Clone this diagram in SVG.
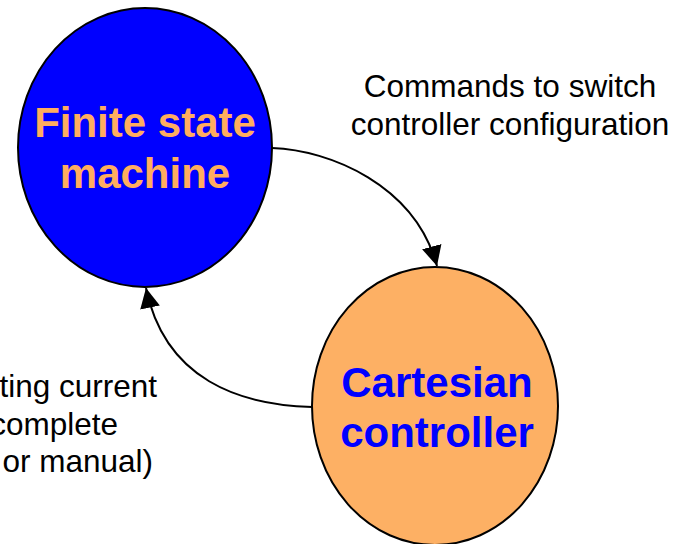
<svg xmlns="http://www.w3.org/2000/svg" width="681" height="544" viewBox="0 0 681 544">
<style>
text{font-family:"Liberation Sans",Arial,sans-serif}
.node{stroke:#000;stroke-width:2}
.title{font-size:42px;font-weight:bold;text-anchor:middle}
.lbl{font-size:31.5px;fill:#000}
.edge{fill:none;stroke:#000;stroke-width:2}
</style>
<defs>
<marker id="ah" markerUnits="userSpaceOnUse" markerWidth="20" markerHeight="20" refX="20" refY="10" orient="auto">
<path d="M0,0 L20,10 L0,20 z" fill="#000"/>
</marker>
</defs>
<rect width="681" height="544" fill="#fff"/>
<g id="fsm">
<ellipse class="node" cx="145" cy="147.5" rx="127" ry="139.5" fill="#0000FF"/>
<text class="title" x="145" y="137" fill="#FFAD5F">Finite state</text>
<text class="title" x="145" y="188" fill="#FFAD5F">machine</text>
</g>
<g id="cartesian">
<ellipse class="node" cx="435" cy="406" rx="123" ry="139" fill="#FDB064"/>
<text class="title" x="437" y="397" fill="#0000FF">Cartesian</text>
<text class="title" x="437" y="447" fill="#0000FF">controller</text>
</g>
<g id="connectors">
<path class="edge" d="M272,148 C330,150 415,185 437,266" marker-end="url(#ah)"/>
<path class="edge" d="M312,407 C240,405 165,380 146,288" marker-end="url(#ah)"/>
</g>
<g id="labels">
<text class="lbl" x="510" y="97" text-anchor="middle">Commands to switch</text>
<text class="lbl" x="510" y="135" text-anchor="middle">controller configuration</text>
<text class="lbl" x="157" y="397" text-anchor="end">ting current</text>
<text class="lbl" x="118" y="435" text-anchor="end">complete</text>
<text class="lbl" x="153" y="472" text-anchor="end">or manual)</text>
</g>
</svg>
